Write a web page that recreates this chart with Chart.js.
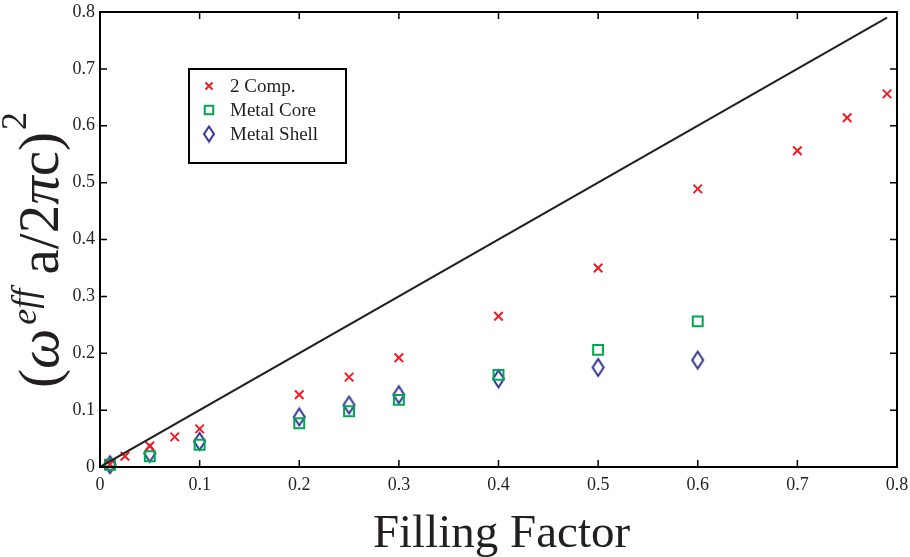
<!DOCTYPE html>
<html>
<head>
<meta charset="utf-8">
<script src="https://cdn.jsdelivr.net/npm/chart.js@4/dist/chart.umd.min.js"></script>
<style>
  html, body { margin: 0; padding: 0; background: #fff; }
  #wrap { width: 910px; height: 557px; }
</style>
</head>
<body>
<div id="wrap"><canvas id="chart"></canvas></div>
<script>
// Filling factor values for each series
const compX = [0.01, 0.025, 0.05, 0.075, 0.1, 0.2, 0.25, 0.3, 0.4, 0.5, 0.6, 0.7, 0.75, 0.79];
const compY = [0.005, 0.019, 0.037, 0.053, 0.067, 0.127, 0.158, 0.192, 0.265, 0.35, 0.489, 0.556, 0.614, 0.656];

const coreX = [0.01, 0.05, 0.1, 0.2, 0.25, 0.3, 0.4, 0.5, 0.6];
const coreY = [0.004, 0.019, 0.039, 0.077, 0.098, 0.118, 0.162, 0.206, 0.256];

const shellX = [0.01, 0.05, 0.1, 0.2, 0.25, 0.3, 0.4, 0.5, 0.6];
const shellY = [0.004, 0.024, 0.045, 0.088, 0.109, 0.127, 0.155, 0.175, 0.188];

// straight reference line
const lineX = [0, 0.79];
const lineY = [0, 0.79];

const tickVals = [0, 0.1, 0.2, 0.3, 0.4, 0.5, 0.6, 0.7, 0.8];

const SERIF = '"Liberation Serif", "DejaVu Serif", serif';
const RED = '#ee1c25';
const GREEN = '#00a651';
const BLUE = '#2e3192';

function pts(xs, ys) {
    return xs.map((x, i) => ({ x: x, y: ys[i] }));
}

// tall open diamond, like the matlab marker
function diamond(w, h) {
    const c = document.createElement('canvas');
    c.width = w + 4;
    c.height = h + 4;
    const g = c.getContext('2d');
    g.strokeStyle = BLUE;
    g.lineWidth = 2;
    g.beginPath();
    g.moveTo(c.width / 2, 2);
    g.lineTo(c.width - 2, c.height / 2);
    g.lineTo(c.width / 2, c.height - 2);
    g.lineTo(2, c.height / 2);
    g.closePath();
    g.stroke();
    return c;
}
const diamondBig = diamond(11, 17);
const diamondSmall = diamond(10, 15);

// frame, inward ticks, legend and axis titles
const decorations = {
    id: 'decorations',
    afterDraw(chart) {
        const ctx = chart.ctx;
        const a = chart.chartArea;
        const xs = chart.scales.x;
        const ys = chart.scales.y;
        ctx.save();
        ctx.strokeStyle = '#000';
        ctx.lineWidth = 2;
        ctx.strokeRect(a.left, a.top, a.right - a.left, a.bottom - a.top);

        ctx.lineWidth = 1.5;
        const tl = 7;
        ctx.beginPath();
        tickVals.forEach(v => {
            const px = xs.getPixelForValue(v);
            ctx.moveTo(px, a.bottom); ctx.lineTo(px, a.bottom - tl);
            ctx.moveTo(px, a.top); ctx.lineTo(px, a.top + tl);
            const py = ys.getPixelForValue(v);
            ctx.moveTo(a.left, py); ctx.lineTo(a.left + tl, py);
            ctx.moveTo(a.right, py); ctx.lineTo(a.right - tl, py);
        });
        ctx.stroke();

        // legend
        const lx = 189, ly = 69, lw = 157, lh = 94;
        ctx.fillStyle = '#fff';
        ctx.fillRect(lx, ly, lw, lh);
        ctx.lineWidth = 2;
        ctx.strokeStyle = '#000';
        ctx.strokeRect(lx, ly, lw, lh);
        const rows = [
            { label: '2 Comp.', style: 'crossRot', color: RED, r: 5 },
            { label: 'Metal Core', style: 'rect', color: GREEN, r: 6 },
            { label: 'Metal Shell', style: diamondSmall, color: BLUE, r: 6 }
        ];
        ctx.font = '19px ' + SERIF;
        ctx.textBaseline = 'middle';
        ctx.textAlign = 'left';
        rows.forEach((row, i) => {
            const cy = 86 + i * 24;
            ctx.strokeStyle = row.color;
            ctx.fillStyle = 'rgba(0,0,0,0)';
            ctx.lineWidth = 2;
            Chart.helpers.drawPoint(ctx, { pointStyle: row.style, radius: row.r, borderWidth: 2 }, 209, cy);
            ctx.fillStyle = '#231f20';
            ctx.fillText(row.label, 230, cy + 1);
        });

        // x axis title
        ctx.font = '47px ' + SERIF;
        ctx.textAlign = 'center';
        ctx.textBaseline = 'alphabetic';
        ctx.fillText('Filling Factor', (a.left + a.right) / 2 + 3, 547);

        // y axis title: (ω^eff a/2πc)^2
        ctx.textAlign = 'left';
        ctx.translate(58, 250);
        ctx.rotate(-Math.PI / 2);
        const big = '57px ' + SERIF;
        const bigI = 'italic 57px ' + SERIF;
        const sup = 'italic 36px ' + SERIF;
        const sup2 = '36px ' + SERIF;
        const parts = [
            { t: '(', f: big, dy: 0 },
            { t: 'ω', f: bigI, dy: 0 },
            { t: 'eff', f: sup, dy: -22, gap: 4 },
            { t: ' a/2', f: big, dy: 0 },
            { t: 'π', f: bigI, dy: 0 },
            { t: 'c)', f: big, dy: 0 },
            { t: '2', f: sup2, dy: -32, gap: 2 }
        ];
        let total = 0;
        parts.forEach(p => { ctx.font = p.f; total += ctx.measureText(p.t).width + (p.gap || 0); });
        let x = -total / 2;
        parts.forEach(p => {
            ctx.font = p.f;
            x += p.gap || 0;
            ctx.fillText(p.t, x, p.dy);
            x += ctx.measureText(p.t).width;
        });
        ctx.restore();
    }
};

new Chart(document.getElementById('chart'), {
    type: 'scatter',
    data: {
        datasets: [
            {
                type: 'line',
                data: pts(lineX, lineY),
                borderColor: '#231f20',
                borderWidth: 2,
                pointRadius: 0,
                fill: false
            },
            {
                label: '2 Comp.',
                data: pts(compX, compY),
                pointStyle: 'crossRot',
                pointRadius: 6,
                borderColor: RED,
                borderWidth: 2,
                clip: false
            },
            {
                label: 'Metal Core',
                data: pts(coreX, coreY),
                pointStyle: 'rect',
                pointRadius: 7,
                borderColor: GREEN,
                backgroundColor: 'rgba(0,0,0,0)',
                borderWidth: 2,
                clip: false
            },
            {
                label: 'Metal Shell',
                data: pts(shellX, shellY),
                pointStyle: diamondBig,
                pointRadius: 8,
                borderColor: BLUE,
                backgroundColor: 'rgba(0,0,0,0)',
                borderWidth: 2,
                clip: false
            }
        ]
    },
    options: {
        responsive: true,
        maintainAspectRatio: false,
        animation: false,
        layout: { padding: { top: 12, right: 13, left: 0, bottom: 0 } },
        plugins: {
            legend: { display: false },
            tooltip: { enabled: false }
        },
        scales: {
            x: {
                type: 'linear',
                min: 0,
                max: 0.8,
                afterFit: s => { s.height = 90; s.paddingLeft = 0; s.paddingRight = 0; },
                afterBuildTicks: s => { s.ticks = tickVals.map(v => ({ value: v })); },
                grid: { display: false, drawTicks: false },
                border: { display: false },
                ticks: {
                    padding: 7,
                    color: '#231f20',
                    font: { family: SERIF, size: 18 },
                    maxRotation: 0,
                    callback: v => String(Math.round(v * 10) / 10)
                }
            },
            y: {
                type: 'linear',
                min: 0,
                max: 0.8,
                afterFit: s => { s.width = 100; s.paddingTop = 0; s.paddingBottom = 0; },
                afterBuildTicks: s => { s.ticks = tickVals.map(v => ({ value: v })); },
                grid: { display: false, drawTicks: false },
                border: { display: false },
                ticks: {
                    padding: 5,
                    color: '#231f20',
                    font: { family: SERIF, size: 18 },
                    callback: v => String(Math.round(v * 10) / 10)
                }
            }
        }
    },
    plugins: [decorations]
});
</script>
</body>
</html>
